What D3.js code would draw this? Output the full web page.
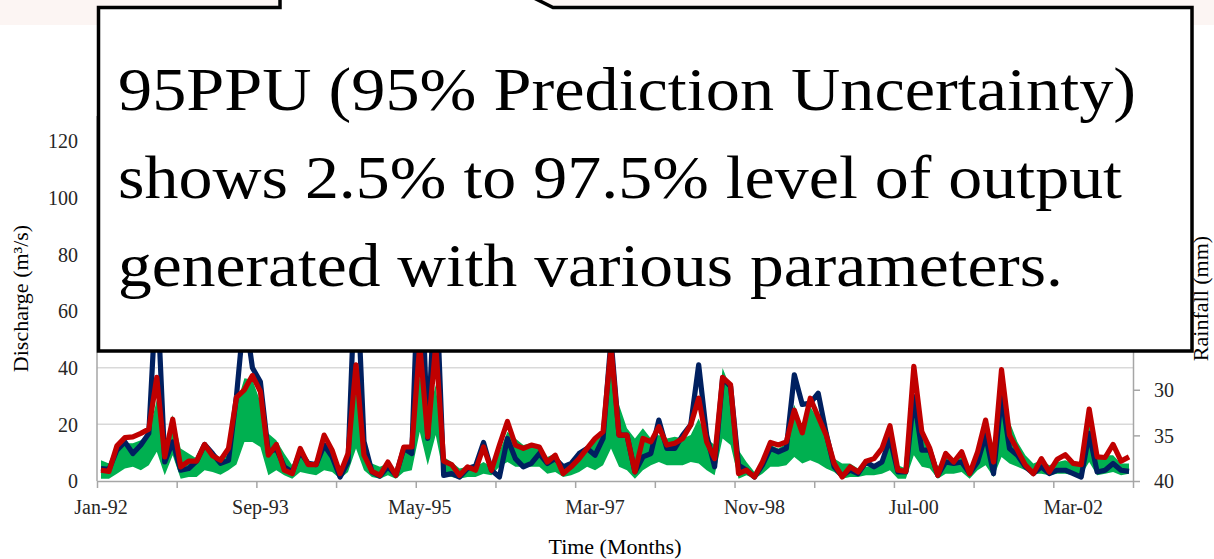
<!DOCTYPE html>
<html>
<head>
<meta charset="utf-8">
<script src="https://cdn.jsdelivr.net/npm/d3@7"></script>
<style>
    body { margin: 0; background: #ffffff; }
    .tick-text { font-family: Garamond, "Liberation Serif", "DejaVu Serif", serif; font-size: 20px; fill: #262626; }
    .axis-title { font-family: Garamond, "Liberation Serif", "DejaVu Serif", serif; font-size: 22px; fill: #000000; }
    .box-text { font-family: Garamond, "Liberation Serif", "DejaVu Serif", serif; font-size: 62px; fill: #000000; }
    .grid-line { stroke: #d9d9d9; stroke-width: 1.5; }
    .axis path, .axis line { stroke: #a6a6a6; stroke-width: 1.5; }
</style>
</head>
<body>
<div id="hydrograph"></div>
<script>
// Monthly categories, Jan-92 .. Oct-02
const months = d3.timeMonths(new Date(1992, 0, 1), new Date(2002, 10, 1)).map(d3.timeFormat("%b-%y"));
const tickLabels = ["Jan-92", "Sep-93", "May-95", "Mar-97", "Nov-98", "Jul-00", "Mar-02"];
const dischargeTicks = [0, 20, 40, 60, 80, 100, 120];
const rainfallTicks = [0, 5, 10, 15, 20, 25, 30, 35, 40];

// Observed discharge (m3/s)
const observed = [
    4.4, 4.1, 10.9, 13.8, 9.7, 12.7, 16.8, 70, 6.7, 13.8,
    3.8, 4.4, 7, 12.9, 9.7, 6.2, 7.3, 30, 60, 40,
    35, 10, 11.5, 5, 3.2, 10.3, 6.2, 5.8, 12.7, 8.5,
    1.4, 6.7, 80, 14, 3.2, 1.7, 5, 2, 11.5, 9.7,
    90, 15, 75, 2, 2.6, 1.4, 4.4, 5.3, 13.6, 3.8,
    1.4, 15, 7.9, 5, 6.2, 9.7, 6.2, 7.9, 5, 6.2,
    9.7, 11.5, 9.1, 15, 50, 16.2, 16.2, 3.2, 8.5, 9.7,
    21.5, 11.5, 11.5, 16.2, 19.8, 41, 16.2, 5, 36.3, 33.4,
    5.6, 3.8, 1.4, 5.6, 11.5, 10.3, 11.5, 37.5, 27, 27.5,
    31, 16.8, 5, 1.8, 3.8, 2.6, 6.7, 5, 6.7, 15,
    3.2, 3.2, 29.8, 10.9, 10.9, 2, 6.7, 6.2, 6.7, 2.6,
    6.7, 16.2, 2.6, 30.4, 11.5, 9.1, 5, 2.6, 5, 2.6,
    3.8, 3.8, 2.6, 1.4, 16.8, 3.2, 3.8, 6.2, 3.8, 3.4
];

// Simulated discharge (best estimate)
const simulated = [
    3.8, 3.4, 12.4, 15.3, 15.6, 16.8, 18.3, 36.6, 8.5, 21.8,
    5, 7, 7, 12.9, 8.9, 7.3, 11.5, 29.5, 32.2, 37.2,
    31.6, 9.1, 12.9, 3.8, 2.6, 11.5, 5.8, 5.8, 16.2, 10.9,
    2.6, 9.7, 41, 9.1, 3.4, 2, 6.7, 2, 12, 12,
    48, 15.6, 48, 7, 5.8, 2, 5, 3.8, 12, 3.8,
    12.7, 21, 12.7, 11.5, 12.7, 12, 6.7, 9.1, 2.6, 5,
    7.9, 11.5, 15, 17.4, 47, 16.2, 16.2, 3.2, 15, 13.8,
    19.2, 12.7, 13.3, 15, 19.8, 29.2, 13.8, 7.9, 36.6, 34,
    2.6, 3.8, 1.4, 6.7, 13.6, 12.7, 13.8, 25, 17, 29.2,
    22.7, 16.2, 6.2, 1.4, 5, 3.2, 7, 7.9, 11.5, 19.5,
    3.8, 3.4, 40.5, 17.4, 11.5, 2, 9.7, 6.7, 10.3, 2.6,
    10.3, 21.5, 6.7, 39.3, 16.2, 10.9, 5.6, 2.6, 7.9, 3.2,
    7.7, 9.3, 6.2, 5.8, 25.4, 8.5, 8.3, 12.9, 7, 8.5
];

// 95PPU band, lower (2.5%) and upper (97.5%)
const ppuLower = [
    0.8, 0.8, 2.6, 4.4, 5, 3.8, 5.6, 10.3, 2, 9.1,
    0.8, 1.4, 1.4, 3.8, 3.2, 2.2, 3.8, 5.8, 13.8, 13.8,
    12, 2, 3.8, 2, 0.8, 3.2, 2.6, 2, 3.8, 3.2,
    0.8, 3.2, 11.5, 3.8, 1.4, 0.8, 2, 0.8, 3.2, 3.8,
    17.4, 5.6, 16.2, 2, 1.4, 0.8, 1.4, 1.4, 2.6, 2,
    5, 6.7, 5, 5, 5, 5, 2.6, 3.2, 1.4, 2,
    3.2, 5, 3.8, 5.6, 11.5, 5, 3.8, 0.8, 3.8, 5.6,
    6.7, 5.6, 5.6, 5.6, 6.7, 6.2, 3.8, 2, 15, 12.7,
    0.8, 2, 0.8, 2.6, 5, 5, 5.6, 8.5, 6.2, 7.3,
    6.2, 4.4, 3.2, 0.8, 1.4, 1.4, 2, 2, 2.6, 3.8,
    0.8, 0.8, 9.1, 5, 4.4, 0.8, 2.6, 2.6, 3.2, 0.8,
    3.8, 5.6, 1.4, 8.5, 6.2, 5, 3.8, 2.6, 2.6, 2,
    2.6, 2.6, 2, 2, 6.7, 2, 2.6, 3.2, 2, 2.6
];
const ppuUpper = [
    7.3, 6.2, 10.9, 13.3, 13.3, 14.4, 16.8, 28.6, 11.5, 23.3,
    11.5, 9.7, 7.9, 12.7, 10.3, 7.9, 9.1, 26.9, 36.3, 35.7,
    28, 16.8, 14.4, 9.7, 5.6, 10.3, 6.7, 6.7, 12.7, 9.7,
    3.2, 9.7, 32.8, 13.8, 6.2, 5, 6.2, 3.2, 12, 11.5,
    38, 22.1, 34, 8.5, 6.7, 4.4, 5, 5, 6.7, 5,
    10.3, 17.4, 15, 12.7, 13.3, 12, 8.5, 9.7, 5.6, 6.2,
    9.1, 11.5, 13.8, 17.4, 38.7, 26.9, 18.6, 15, 18.6, 15,
    16.2, 15, 15.6, 15, 16.2, 22.1, 15, 12.7, 39.9, 32.8,
    10.9, 6.7, 3.2, 6.2, 12.7, 11.5, 13.3, 26.9, 19.2, 26.3,
    21.5, 15, 7.9, 6.2, 6.2, 4.4, 5, 5.6, 7.3, 15.6,
    5.6, 4.4, 30.4, 17.4, 13.3, 5, 8.5, 7.3, 9.1, 3.8,
    9.7, 18, 6.2, 31, 21, 13.8, 9.1, 6.2, 7.3, 5.6,
    6.7, 7.3, 6.2, 5, 21, 8.5, 9.1, 9.1, 6.2, 6.2
];

const boxLines = [
    "95PPU (95% Prediction Uncertainty)",
    "shows 2.5% to 97.5% level of output",
    "generated with various parameters."
];

/**
 * Constructor for the Hydrograph
 */
function Hydrograph(){
    let self = this;

    self.init();
};

/**
 * Sets up svg, scales and draws the chart
 */
Hydrograph.prototype.init = function(){
    let self = this;
    self.width = 1214;
    self.height = 559;
    self.plot = {left: 97, right: 1133, top: 116, bottom: 481};

    self.svg = d3.select("#hydrograph").append("svg")
        .attr("width", self.width)
        .attr("height", self.height);

    //Faint band along the top of the slide
    self.svg.append("rect")
        .attr("x", 0)
        .attr("y", 0)
        .attr("width", self.width)
        .attr("height", 25)
        .style("fill", "#fcf5f3");

    //Scales
    self.xScale = d3.scaleBand()
        .domain(months)
        .range([self.plot.left, self.plot.right])
        .padding(0);
    self.xEdge = d3.scaleLinear()
        .domain([0, months.length])
        .range([self.plot.left, self.plot.right]);
    self.yScale = d3.scaleLinear()
        .domain([0, 120])
        .range([self.plot.bottom, 141]);
    self.rainScale = d3.scaleLinear()
        .domain([0, 40])
        .range([self.plot.top, self.plot.bottom]);

    self.drawGrid();
    self.drawSeries();
    self.drawAxes();
    self.drawCallout();
};

/**
 * Horizontal gridlines at the discharge ticks
 */
Hydrograph.prototype.drawGrid = function(){
    let self = this;

    self.svg.append("g")
        .selectAll("line")
        .data(dischargeTicks.filter(function(d) { return d > 0; }))
        .enter()
        .append("line")
        .attr("class", "grid-line")
        .attr("x1", self.plot.left)
        .attr("x2", self.plot.right)
        .attr("y1", function(d) { return self.yScale(d); })
        .attr("y2", function(d) { return self.yScale(d); });
};

/**
 * 95PPU band, observed and simulated lines
 */
Hydrograph.prototype.drawSeries = function(){
    let self = this;
    const xPos = function(i) {
        return self.xScale(months[i]) + self.xScale.bandwidth() / 2;
    };

    const band = d3.area()
        .x(function(d, i) { return xPos(i); })
        .y0(function(d, i) { return self.yScale(ppuLower[i]); })
        .y1(function(d, i) { return self.yScale(ppuUpper[i]); });

    self.svg.append("path")
        .datum(months)
        .attr("d", band)
        .style("fill", "#00b050");

    const line = function(values) {
        return d3.line()
            .x(function(d, i) { return xPos(i); })
            .y(function(d) { return self.yScale(d); })(values);
    };

    self.svg.append("path")
        .attr("d", line(observed))
        .style("fill", "none")
        .style("stroke", "#002060")
        .style("stroke-width", 5.2)
        .style("stroke-linejoin", "round");

    self.svg.append("path")
        .attr("d", line(simulated))
        .style("fill", "none")
        .style("stroke", "#c00000")
        .style("stroke-width", 5.2)
        .style("stroke-linejoin", "round");
};

/**
 * Axes, tick labels and axis titles
 */
Hydrograph.prototype.drawAxes = function(){
    let self = this;

    //Left discharge axis
    let left = self.svg.append("g")
        .attr("class", "axis")
        .attr("transform", "translate(" + self.plot.left + ",0)")
        .call(d3.axisLeft(self.yScale).tickValues(dischargeTicks).tickSize(0).tickPadding(19));
    left.select(".domain").attr("d", "M0," + self.plot.bottom + "V" + self.plot.top);
    left.selectAll("text").attr("class", "tick-text").attr("fill", null).attr("dy", "0.34em");

    //Right rainfall axis (inverted)
    let right = self.svg.append("g")
        .attr("class", "axis")
        .attr("transform", "translate(" + self.plot.right + ",0)")
        .call(d3.axisRight(self.rainScale).tickValues(rainfallTicks).tickSize(7).tickSizeOuter(0).tickPadding(14));
    right.selectAll("text").attr("class", "tick-text").attr("fill", null).attr("dy", "0.34em");

    //Bottom axis: tick marks every 10 months between categories
    let bottom = self.svg.append("g")
        .attr("class", "axis")
        .attr("transform", "translate(0," + self.plot.bottom + ")")
        .call(d3.axisBottom(self.xEdge).tickValues(d3.range(0, months.length + 1, 10)).tickFormat("").tickSize(7).tickSizeOuter(0));

    //Bottom labels every 20 months
    let labels = self.svg.append("g")
        .attr("transform", "translate(0," + self.plot.bottom + ")")
        .call(d3.axisBottom(self.xScale).tickValues(tickLabels).tickSize(0).tickPadding(26));
    labels.select(".domain").remove();
    labels.selectAll("text").attr("class", "tick-text").attr("fill", null).attr("dy", "0.34em");

    self.svg.append("text")
        .attr("class", "axis-title")
        .attr("x", (self.plot.left + self.plot.right) / 2)
        .attr("y", 554)
        .attr("text-anchor", "middle")
        .text("Time (Months)");

    self.svg.append("text")
        .attr("class", "axis-title")
        .attr("transform", "translate(28," + (self.plot.top + self.plot.bottom) / 2 + ") rotate(-90)")
        .attr("text-anchor", "middle")
        .text("Discharge (m³/s)");

    self.svg.append("text")
        .attr("class", "axis-title")
        .attr("transform", "translate(1208," + (self.plot.top + self.plot.bottom) / 2 + ") rotate(-90)")
        .attr("text-anchor", "middle")
        .text("Rainfall (mm)");
};

/**
 * Callout box laid over the top of the chart
 */
Hydrograph.prototype.drawCallout = function(){
    let self = this;
    const box = {left: 98.5, right: 1192, top: 7.5, bottom: 351};

    const outline = d3.path();
    outline.moveTo(box.left, box.top);
    outline.lineTo(280, box.top);
    outline.lineTo(280, -12);
    outline.lineTo(514, -12);
    outline.lineTo(553, box.top);
    outline.lineTo(box.right, box.top);
    outline.lineTo(box.right, box.bottom);
    outline.lineTo(box.left, box.bottom);
    outline.closePath();

    self.svg.append("path")
        .attr("d", outline.toString())
        .style("fill", "#ffffff")
        .style("stroke", "#000000")
        .style("stroke-width", 3.5)
        .style("stroke-linejoin", "miter");

    const lineWidths = [1018, 1004, 945];
    self.svg.append("g")
        .selectAll("text")
        .data(boxLines)
        .enter()
        .append("text")
        .attr("class", "box-text")
        .attr("x", 118)
        .attr("y", function(d, i) { return 110 + i * 88; })
        .attr("textLength", function(d, i) { return lineWidths[i]; })
        .attr("lengthAdjust", "spacingAndGlyphs")
        .text(function(d) { return d; });
};

new Hydrograph();
</script>
</body>
</html>
